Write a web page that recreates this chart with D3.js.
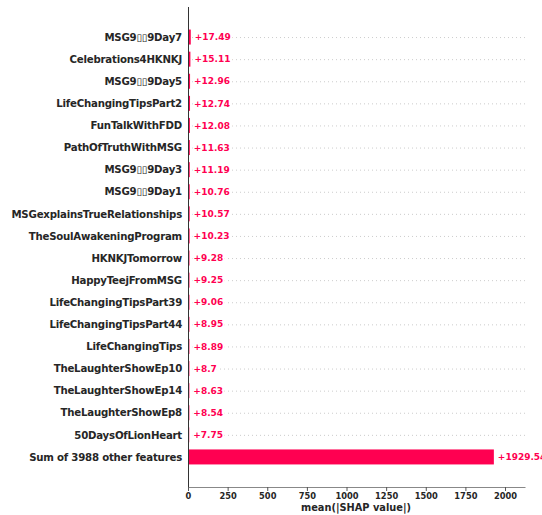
<!DOCTYPE html>
<html><head><meta charset="utf-8">
<script src="https://cdn.jsdelivr.net/npm/d3@7"></script>
<style>body{margin:0;background:#fff}svg{display:block}</style>
</head><body>
<script>
const features = ["MSG9\u25AF\u25AF9Day7","Celebrations4HKNKJ","MSG9\u25AF\u25AF9Day5","LifeChangingTipsPart2","FunTalkWithFDD","PathOfTruthWithMSG","MSG9\u25AF\u25AF9Day3","MSG9\u25AF\u25AF9Day1","MSGexplainsTrueRelationships","TheSoulAwakeningProgram","HKNKJTomorrow","HappyTeejFromMSG","LifeChangingTipsPart39","LifeChangingTipsPart44","LifeChangingTips","TheLaughterShowEp10","TheLaughterShowEp14","TheLaughterShowEp8","50DaysOfLionHeart","Sum of 3988 other features"];
const values = [17.49,15.11,12.96,12.74,12.08,11.63,11.19,10.76,10.57,10.23,9.28,9.25,9.06,8.95,8.89,8.7,8.63,8.54,7.75,1929.54];
const valueLabels = ["+17.49","+15.11","+12.96","+12.74","+12.08","+11.63","+11.19","+10.76","+10.57","+10.23","+9.28","+9.25","+9.06","+8.95","+8.89","+8.7","+8.63","+8.54","+7.75","+1929.54"];
const xTicks = [0,250,500,750,1000,1250,1500,1750,2000];

const W=542,H=515;
const svg=d3.select("body").append("svg").attr("width",W).attr("height",H);
const font="DejaVu Sans";
const x=d3.scaleLinear().domain([0,2126]).range([188,525]);
const y=d3.scaleLinear().domain([-1.36,20.36]).range([7,487]);
const bh=15;
const red="#ff0051";

// gridlines
svg.append("g").selectAll("line").data(features.slice(0,19)).join("line")
  .attr("x1",188).attr("x2",525)
  .attr("y1",(d,i)=>y(i)+0.5).attr("y2",(d,i)=>y(i)+0.5)
  .attr("stroke","#cccccc").attr("stroke-width",1).attr("stroke-dasharray","1,3");

// bars
svg.append("g").selectAll("rect").data(values).join("rect")
  .attr("x",x(0)).attr("y",(d,i)=>y(i)-bh/2)
  .attr("width",d=>x(d)-x(0)).attr("height",bh).attr("fill",red);

// value labels
svg.append("g").selectAll("text").data(values).join("text")
  .attr("x",d=>x(d)+4).attr("y",(d,i)=>y(i))
  .attr("dy","0.35em").attr("font-family",font).attr("font-weight","bold")
  .attr("font-size",9).attr("fill",red)
  .attr("stroke","#fff").attr("stroke-width",4).attr("paint-order","stroke")
  .text((d,i)=>valueLabels[i]);

// feature labels
svg.append("g").selectAll("text").data(features).join("text")
  .attr("x",182).attr("y",(d,i)=>y(i)).attr("dy","0.36em")
  .attr("text-anchor","end").attr("font-family",font).attr("font-weight","bold")
  .attr("font-size",10.2).attr("letter-spacing","-0.22px").attr("fill","#262626").text(d=>d);

// left axis line
svg.append("line").attr("x1",188.5).attr("x2",188.5).attr("y1",7).attr("y2",487)
  .attr("stroke","#333333").attr("stroke-width",1);

// bottom axis
const ax=svg.append("g").attr("transform","translate(0,487)")
  .call(d3.axisBottom(x).tickValues(xTicks).tickFormat(d3.format("d")).tickSize(4).tickSizeOuter(0).tickPadding(2));
ax.select(".domain").attr("stroke","#888888").attr("stroke-width",1.2);
ax.selectAll(".tick line").attr("stroke","#555555");
ax.selectAll(".tick text").attr("font-family",font).attr("font-weight","bold")
  .attr("font-size",8.3).attr("fill","#262626");

svg.append("text").attr("x",356).attr("y",511).attr("text-anchor","middle")
  .attr("font-family",font).attr("font-weight","bold").attr("font-size",9.8)
  .attr("fill","#262626").text("mean(|SHAP value|)");
</script>
</body></html>
